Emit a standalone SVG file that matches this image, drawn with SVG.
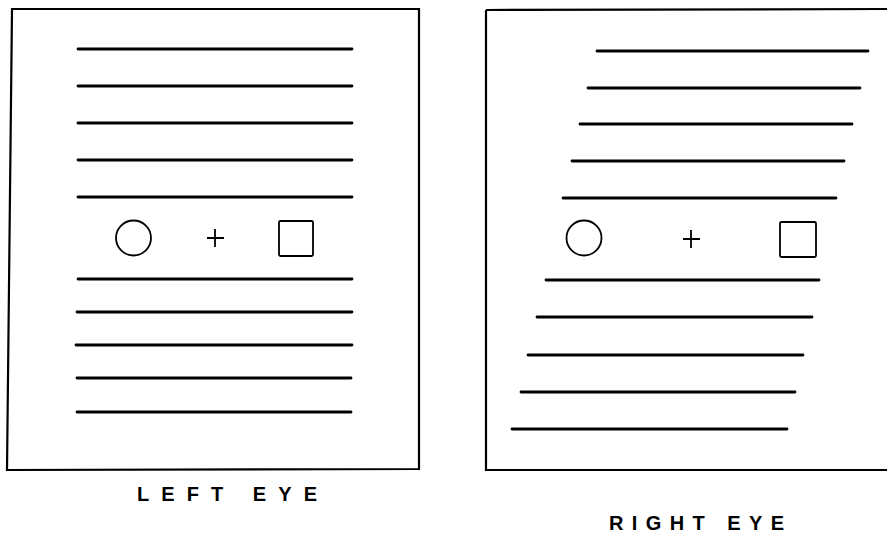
<svg xmlns="http://www.w3.org/2000/svg" width="887" height="537" viewBox="0 0 887 537">
<style>
.frame{fill:none;stroke:#000;stroke-width:2.2}
.ln{stroke:#000;stroke-width:2.8;stroke-linecap:round}
.sym{fill:none;stroke:#000;stroke-width:1.8}
.lbl{font-family:"Liberation Sans",Arial,sans-serif;font-weight:bold;font-size:20px;fill:#000}
</style>
<rect width="887" height="537" fill="#fff"/>
<g id="left-eye">
<path class="frame" d="M12,9 L419,9 L419,469 L7,470 Z"/>
<g>
<line class="ln" x1="78" y1="49" x2="352" y2="49"/>
<line class="ln" x1="78" y1="86" x2="352" y2="86"/>
<line class="ln" x1="78" y1="123" x2="352" y2="123"/>
<line class="ln" x1="78" y1="160" x2="352" y2="160"/>
<line class="ln" x1="78" y1="197" x2="352" y2="197"/>
<line class="ln" x1="78" y1="279" x2="352" y2="279"/>
<line class="ln" x1="77" y1="312" x2="352" y2="312"/>
<line class="ln" x1="76" y1="345" x2="352" y2="345"/>
<line class="ln" x1="77" y1="378" x2="351" y2="378"/>
<line class="ln" x1="77" y1="412" x2="351" y2="412"/>
</g>
<circle class="sym" cx="133.5" cy="238" r="17.5"/>
<path class="sym" d="M207,238 H224 M215,229 V247"/>
<rect class="sym" x="279" y="221" width="34" height="35" rx="1.5"/>
<text class="lbl" x="137" y="501" textLength="180" lengthAdjust="spacing">LEFT EYE</text>
</g>
<g id="right-eye">
<path class="frame" d="M486,10 L890,9 M486,10 L486,470 L890,470"/>
<g>
<line class="ln" x1="597" y1="51" x2="868" y2="51"/>
<line class="ln" x1="588" y1="88" x2="860" y2="88"/>
<line class="ln" x1="580" y1="124" x2="852" y2="124"/>
<line class="ln" x1="572" y1="161" x2="844" y2="161"/>
<line class="ln" x1="563" y1="198" x2="836" y2="198"/>
<line class="ln" x1="546" y1="280" x2="819" y2="280"/>
<line class="ln" x1="537" y1="317" x2="812" y2="317"/>
<line class="ln" x1="528" y1="355" x2="803" y2="355"/>
<line class="ln" x1="521" y1="392" x2="795" y2="392"/>
<line class="ln" x1="512" y1="429" x2="787" y2="429"/>
</g>
<circle class="sym" cx="584" cy="238" r="17.5"/>
<path class="sym" d="M683,239 H700 M691,230 V248"/>
<rect class="sym" x="780" y="222" width="36" height="35" rx="1.5"/>
<text class="lbl" x="609" y="530" textLength="175" lengthAdjust="spacing">RIGHT EYE</text>
</g>
</svg>
